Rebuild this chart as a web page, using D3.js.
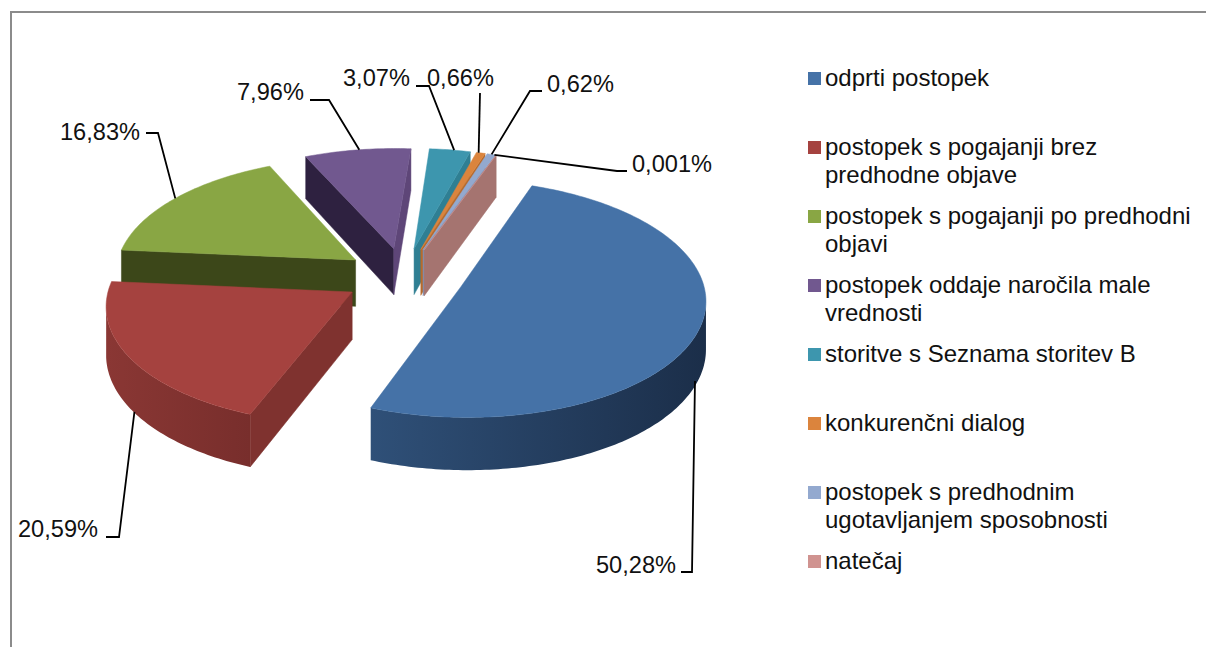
<!DOCTYPE html>
<html>
<head>
<meta charset="utf-8">
<script src="https://cdn.jsdelivr.net/npm/d3@7"></script>
<style>
html, body { margin: 0; padding: 0; background: #fff; overflow: hidden; }
text { font-family: "Liberation Sans", Arial, sans-serif; fill: #111; }
</style>
</head>
<body>
<svg id="canvas"></svg>
<script>
let width = 1206,
height = 647

// values
let categories = [
    ['odprti postopek'],
    ['postopek s pogajanji brez', 'predhodne objave'],
    ['postopek s pogajanji po predhodni', 'objavi'],
    ['postopek oddaje naročila male', 'vrednosti'],
    ['storitve s Seznama storitev B'],
    ['konkurenčni dialog'],
    ['postopek s predhodnim', 'ugotavljanjem sposobnosti'],
    ['natečaj']
]
let values = [50.28, 20.59, 16.83, 7.96, 3.07, 0.66, 0.62, 0.001]
let valueLabels = ['50,28%', '20,59%', '16,83%', '7,96%', '3,07%', '0,66%', '0,62%', '0,001%']

// colours per slice
let topColors = ['#4572a7', '#a5423f', '#89a644', '#71588f', '#3d96ae', '#db843d', '#93a9cf', '#d09390']
let startWall = ['#2b4a6e', '#7f322f', '#3c4719', '#2e2140', '#2f7f93', '#b86a2c', '#7d93b8', '#a57470']
let endWall = ['#2b4a6e', '#7f322f', '#3c4719', '#5e4678', '#2f7f93', '#b86a2c', '#7d93b8', '#a57470']
let rimLeft = ['#2f5078', '#8a3734', '#3c4719', '#2e2140', '#2f7f93', '#b86a2c', '#7d93b8', '#a57470']
let rimRight = ['#1b2e49', '#782e2c', '#3c4719', '#5e4678', '#2f7f93', '#b86a2c', '#7d93b8', '#a57470']

// where each leader touches its slice, and where its label sits
let leaderAngle = [114, 236, 305.5, 350.5, 11, 16, 19, 19.5]
let leaderDrop = [0.9, 0.98, 0, 0, 0, 0, 0, 0]
let labelX = [596, 18, 60, 237, 343, 427, 547, 632]
let labelY = [573, 537, 140, 100, 86, 86, 92, 172]
let elbows = [
    [[681, 572], [692, 572]],
    [[106, 537], [119, 537]],
    [[146, 133], [158, 133]],
    [[310, 100], [329, 100]],
    [[416, 86], [429, 86]],
    [[480, 93]],
    [[542, 91], [530, 91]],
    [[627, 171], [617, 171]]
]

// pie camera
let cx = 404, cy = 276.5
let rx = 241, ry = 115.5
let depth = 47
let persp = 0.10
let explode = 0.25
let firstAngle = 20 * Math.PI / 180

let canvas = d3.select('#canvas')
.attr('width', width)
.attr('height', height)

let defs = canvas.append('defs')

// frame of the chart, runs off the page right and below
canvas.append('path')
.attr('d', d3.line()([[11, height], [11, 12], [width, 12]]))
.attr('fill', 'none')
.attr('stroke', '#8b8b8b')
.attr('stroke-width', 2)

let pie = d3.pie().sort(null).startAngle(firstAngle).endAngle(firstAngle + 2 * Math.PI)
let arcs = pie(values)

let project = (X, U, z) => {
    let s = 1 / (1 - persp * U)
    return [cx + rx * X * s, cy + ry * U * s + depth * z * s]
}

// point of an exploded slice: r = 0 is its apex, r = 1 is on the rim
let slicePoint = (d, angle, r, z) => {
    let mid = (d.startAngle + d.endAngle) / 2
    let X = explode * Math.sin(mid) + r * Math.sin(angle)
    let U = -explode * Math.cos(mid) - r * Math.cos(angle)
    return project(X, U, z)
}

let line = d3.line()

let wall = (g, a, b, fill) => {
    g.append('path')
    .attr('d', line([slicePoint(a.d, a.angle, a.r, 0), slicePoint(b.d, b.angle, b.r, 0),
        slicePoint(b.d, b.angle, b.r, 1), slicePoint(a.d, a.angle, a.r, 1)]) + 'Z')
    .attr('fill', fill)
    .attr('stroke', fill)
    .attr('stroke-width', 0.5)
}

let drawSlice = (d, i) => {
    let g = canvas.append('g').attr('class', 'slice')
    let steps = Math.max(2, Math.ceil((d.endAngle - d.startAngle) * 60))
    let angles = d3.range(steps + 1).map((k) => d.startAngle + (d.endAngle - d.startAngle) * k / steps)
    let rim = angles.map((a) => slicePoint(d, a, 1, 0))
    let apex = slicePoint(d, 0, 0, 0)

    // only the part of the rim turned to the viewer gets a wall
    let front = angles.filter((a, k) => {
        if (k === angles.length - 1) return rim[k][0] < rim[k - 1][0]
        return rim[k + 1][0] < rim[k][0]
    })
    if (front.length > 1) {
        let id = 'rim' + i
        let grad = defs.append('linearGradient').attr('id', id)
        grad.append('stop').attr('offset', 0).attr('stop-color', rimLeft[i])
        grad.append('stop').attr('offset', 1).attr('stop-color', rimRight[i])
        let pts = front.map((a) => slicePoint(d, a, 1, 0))
            .concat(front.slice().reverse().map((a) => slicePoint(d, a, 1, 1)))
        g.append('path').attr('d', line(pts) + 'Z').attr('fill', `url(#${id})`)
    }

    // radial walls, hidden when they face away
    let first = rim[0], last = rim[rim.length - 1]
    if (first[0] < apex[0]) {
        wall(g, {d, angle: 0, r: 0}, {d, angle: d.startAngle, r: 1}, startWall[i])
    }
    if (last[0] > apex[0]) {
        wall(g, {d, angle: d.endAngle, r: 1}, {d, angle: 0, r: 0}, endWall[i])
    }

    g.append('path')
    .attr('d', line([apex].concat(rim)) + 'Z')
    .attr('fill', topColors[i])
    .attr('stroke', topColors[i])
    .attr('stroke-width', 0.5)
}

// back to front
let drawOrder = [3, 4, 5, 6, 7, 2, 1, 0]
drawOrder.forEach((i) => drawSlice(arcs[i], i))

// leaders and value labels
valueLabels.forEach((label, i) => {
    let touch = slicePoint(arcs[i], leaderAngle[i] * Math.PI / 180, 1, leaderDrop[i])
    canvas.append('path')
    .attr('d', line(elbows[i].concat([touch])))
    .attr('fill', 'none')
    .attr('stroke', '#000')
    .attr('stroke-width', 1.8)
    canvas.append('text')
    .attr('x', labelX[i])
    .attr('y', labelY[i])
    .attr('font-size', 23.6)
    .text(label)
})

// legend
let legendY = d3.scaleLinear().domain([0, 7]).range([72, 555])
let legend = canvas.selectAll('g.legend')
.data(categories)
.join('g')
.attr('class', 'legend')
.attr('transform', (d, i) => `translate(808, ${legendY(i)})`)

legend.append('rect')
.attr('width', 13)
.attr('height', 13)
.attr('fill', (d, i) => topColors[i])

legend.selectAll('text')
.data((d) => d)
.join('text')
.attr('x', 17)
.attr('y', (d, k) => 14 + k * 28)
.attr('font-size', 24)
.text((d) => d)
</script>
</body>
</html>
